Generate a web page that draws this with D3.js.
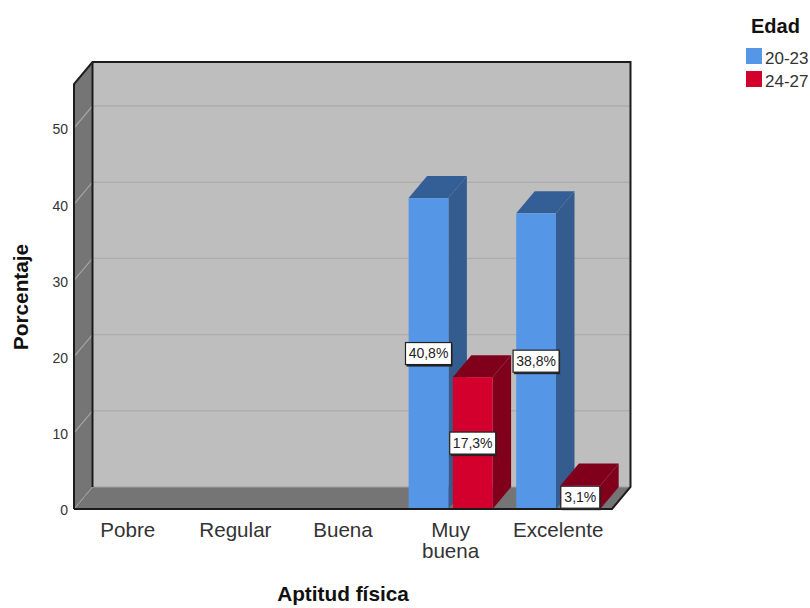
<!DOCTYPE html>
<html>
<head>
<meta charset="utf-8">
<script src="https://cdn.jsdelivr.net/npm/d3@7"></script>
<style>
html, body { margin: 0; padding: 0; background: #fff; }
svg { display: block; }
text { font-family: "Liberation Sans", Arial, sans-serif; }
</style>
</head>
<body>
<div id="chart"></div>
<script>
const categories = ["Pobre", "Regular", "Buena", "Muy buena", "Excelente"];
const categoryLines = [["Pobre"], ["Regular"], ["Buena"], ["Muy", "buena"], ["Excelente"]];
const seriesNames = ["20-23", "24-27"];
const values2023 = [null, null, null, 40.8, 38.8];
const values2427 = [null, null, null, 17.3, 3.1];
const labels2023 = [null, null, null, "40,8%", "38,8%"];
const labels2427 = [null, null, null, "17,3%", "3,1%"];
const yTicks = [0, 10, 20, 30, 40, 50];

const frontColors = ["#5596e6", "#d3002d"];
const topColors = ["#345f96", "#80001c"];
const sideColors = ["#345c8f", "#80001c"];

const w = 810, h = 608;
const plotLeft = 74, plotRight = 612, plotBottom = 509, plotTop = 84;
const depthX = 18.5, depthY = 22;

const svg = d3.select("#chart").append("svg").attr("width", w).attr("height", h);

const x = d3.scaleBand().domain(categories).range([plotLeft, plotRight]);
const inner = d3.scaleBand().domain(d3.range(2)).range([0, 84]).paddingInner(0.1);
const y = d3.scaleLinear().domain([0, (plotBottom - plotTop) / 7.62]).range([plotBottom, plotTop]);

const pts = a => a.map(p => p.join(",")).join(" ");
const backX = v => v + depthX, backY = v => v - depthY;

// walls and floor
svg.append("rect")
    .attr("x", backX(plotLeft)).attr("y", backY(plotTop))
    .attr("width", plotRight - plotLeft).attr("height", plotBottom - plotTop)
    .attr("fill", "#bebebe");
svg.append("polygon")
    .attr("points", pts([[plotLeft, plotBottom], [backX(plotLeft), backY(plotBottom)], [backX(plotLeft), backY(plotTop)], [plotLeft, plotTop]]))
    .attr("fill", "#757575");
svg.append("polygon")
    .attr("points", pts([[plotLeft, plotBottom], [plotRight, plotBottom], [backX(plotRight), backY(plotBottom)], [backX(plotLeft), backY(plotBottom)]]))
    .attr("fill", "#757575");

// gridlines
const grid = svg.append("g").selectAll("g").data(yTicks.filter(d => d > 0)).enter().append("g");
grid.append("line")
    .attr("x1", backX(plotLeft)).attr("x2", backX(plotRight))
    .attr("y1", d => backY(y(d))).attr("y2", d => backY(y(d)))
    .attr("stroke", "#adadad").attr("stroke-width", 1.4);
grid.append("line")
    .attr("x1", plotLeft).attr("x2", backX(plotLeft))
    .attr("y1", d => y(d)).attr("y2", d => backY(y(d)))
    .attr("stroke", "#a4a4a4").attr("stroke-width", 1.2);

svg.append("line")
    .attr("x1", backX(plotLeft)).attr("x2", backX(plotRight))
    .attr("y1", backY(plotBottom)).attr("y2", backY(plotBottom))
    .attr("stroke", "#a0a0a0");
svg.append("line")
    .attr("x1", plotLeft).attr("x2", backX(plotLeft))
    .attr("y1", plotBottom).attr("y2", backY(plotBottom))
    .attr("stroke", "#a4a4a4");

// frame
const frame = "#1c1c1c";
svg.append("polyline")
    .attr("points", pts([[plotLeft, plotBottom], [plotLeft, plotTop], [backX(plotLeft), backY(plotTop)], [backX(plotRight), backY(plotTop)], [backX(plotRight), backY(plotBottom)], [plotRight, plotBottom], [plotLeft, plotBottom]]))
    .attr("fill", "none").attr("stroke", frame).attr("stroke-width", 2);
svg.append("line")
    .attr("x1", backX(plotLeft)).attr("x2", backX(plotLeft))
    .attr("y1", backY(plotTop)).attr("y2", backY(plotBottom))
    .attr("stroke", frame).attr("stroke-width", 2);

// bars
const rows = [];
[values2023, values2427].forEach((vals, s) => {
    const lab = s === 0 ? labels2023 : labels2427;
    vals.forEach((v, i) => {
        if (v !== null) rows.push({ s, v, label: lab[i], cat: categories[i] });
    });
});
const barX = d => x(d.cat) + (x.bandwidth() - 84) / 2 + inner(d.s);
const bw = inner.bandwidth();

const bars = svg.append("g").selectAll("g").data(rows).enter().append("g");
bars.append("polygon")
    .attr("points", d => pts([[barX(d), y(d.v)], [barX(d) + depthX, y(d.v) - depthY],
        [barX(d) + bw + depthX, y(d.v) - depthY], [barX(d) + bw, y(d.v)]]))
    .attr("fill", d => topColors[d.s]);
bars.append("polygon")
    .attr("points", d => pts([[barX(d) + bw, plotBottom], [barX(d) + bw + depthX, plotBottom - depthY],
        [barX(d) + bw + depthX, y(d.v) - depthY], [barX(d) + bw, y(d.v)]]))
    .attr("fill", d => sideColors[d.s]);
bars.append("rect")
    .attr("x", barX).attr("y", d => y(d.v))
    .attr("width", bw).attr("height", d => plotBottom - y(d.v))
    .attr("fill", d => frontColors[d.s]);

// floor edge over the bars
svg.append("line")
    .attr("x1", plotLeft).attr("x2", plotRight).attr("y1", plotBottom).attr("y2", plotBottom)
    .attr("stroke", frame).attr("stroke-width", 2);

// value labels
const boxes = svg.append("g").selectAll("g").data(rows).enter().append("g")
    .attr("transform", d => `translate(${barX(d) + bw / 2},${y(d.v / 2)})`);
boxes.append("rect")
    .attr("x", d => d.label.length > 4 ? -22 : -18.5).attr("y", -10)
    .attr("width", d => d.label.length > 4 ? 46 : 39).attr("height", 23)
    .attr("fill", "#222");
boxes.append("rect")
    .attr("x", d => d.label.length > 4 ? -23 : -19.5).attr("y", -11)
    .attr("width", d => d.label.length > 4 ? 46 : 39).attr("height", 22)
    .attr("fill", "#fff").attr("stroke", "#222").attr("stroke-width", 1.2);
boxes.append("text")
    .attr("text-anchor", "middle").attr("dy", "0.35em")
    .attr("font-size", 14).attr("fill", "#222")
    .text(d => d.label);

// y axis labels
const yAxis = svg.append("g")
    .attr("transform", `translate(${plotLeft - 6},0)`)
    .call(d3.axisLeft(y).tickValues(yTicks).tickSize(0).tickPadding(0));
yAxis.select(".domain").remove();
yAxis.selectAll("text").attr("font-size", 14).attr("fill", "#333")
    .style("font-family", '"Liberation Sans", Arial, sans-serif')
    .attr("dy", "0.42em");

// x axis labels
svg.append("g").selectAll("text").data(categories).enter().append("text")
    .attr("text-anchor", "middle")
    .attr("x", d => x(d) + x.bandwidth() / 2)
    .attr("y", 537)
    .attr("font-size", 20.6).attr("fill", "#333")
    .selectAll("tspan").data((d, i) => categoryLines[i]).enter().append("tspan")
    .attr("x", function () { return d3.select(this.parentNode).attr("x"); })
    .attr("dy", (d, i) => i ? 21 : 0)
    .text(d => d);

// axis titles
svg.append("text")
    .attr("x", 343).attr("y", 601).attr("text-anchor", "middle")
    .attr("font-size", 20.8).attr("font-weight", "bold").attr("fill", "#111")
    .text("Aptitud física");
svg.append("text")
    .attr("transform", "translate(28,297) rotate(-90)").attr("text-anchor", "middle")
    .attr("font-size", 20.8).attr("font-weight", "bold").attr("fill", "#111")
    .text("Porcentaje");

// legend
svg.append("text")
    .attr("x", 751).attr("y", 33)
    .attr("font-size", 20).attr("font-weight", "bold").attr("fill", "#111")
    .text("Edad");
const legend = svg.append("g").selectAll("g").data(seriesNames).enter().append("g")
    .attr("transform", (d, i) => `translate(746,${48 + i * 23})`);
legend.append("rect")
    .attr("width", 16).attr("height", 16)
    .attr("fill", (d, i) => frontColors[i]);
legend.append("text")
    .attr("x", 19).attr("y", 16)
    .attr("font-size", 17).attr("fill", "#333")
    .text(d => d);
</script>
</body>
</html>
